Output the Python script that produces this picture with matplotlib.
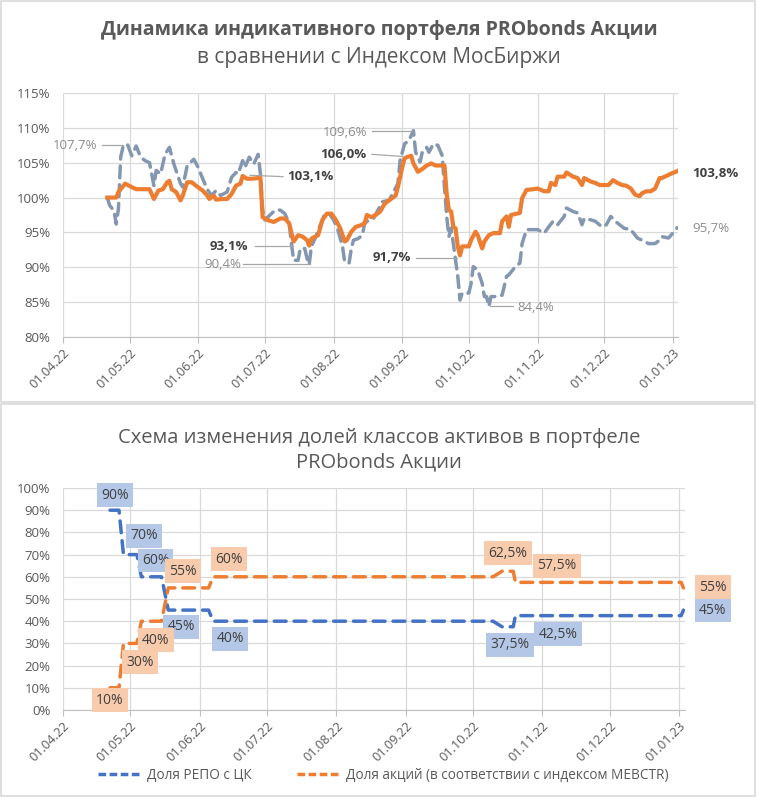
import matplotlib
matplotlib.use('Agg')
import matplotlib.pyplot as plt
import matplotlib.dates as mdates
from matplotlib.patches import Rectangle
from matplotlib.lines import Line2D
import pandas as pd

plt.rcParams['font.family'] = ['Open Sans', 'DejaVu Sans']

# Portfolio PRObonds Akcii (orange), % of start
port_dates = [
    '21.04.22', '25.04.22', '26.04.22', '27.04.22', '29.04.22', '02.05.22', '04.05.22', '10.05.22',
    '12.05.22', '14.05.22', '16.05.22', '18.05.22', '19.05.22', '20.05.22', '22.05.22', '24.05.22',
    '25.05.22', '27.05.22', '29.05.22', '31.05.22', '03.06.22', '05.06.22', '06.06.22', '08.06.22',
    '09.06.22', '12.06.22', '14.06.22', '16.06.22', '18.06.22', '20.06.22', '21.06.22', '23.06.22',
    '25.06.22', '28.06.22', '29.06.22', '30.06.22', '02.07.22', '05.07.22', '08.07.22', '10.07.22',
    '12.07.22', '13.07.22', '14.07.22', '16.07.22', '18.07.22', '20.07.22', '21.07.22', '22.07.22',
    '25.07.22', '27.07.22', '29.07.22', '31.07.22', '02.08.22', '04.08.22', '06.08.22', '07.08.22',
    '09.08.22', '11.08.22', '13.08.22', '15.08.22', '16.08.22', '18.08.22', '20.08.22', '22.08.22',
    '24.08.22', '26.08.22', '29.08.22', '30.08.22', '01.09.22', '02.09.22', '03.09.22', '05.09.22',
    '06.09.22', '08.09.22', '10.09.22', '12.09.22', '14.09.22', '16.09.22', '20.09.22', '21.09.22',
    '22.09.22', '23.09.22', '24.09.22', '25.09.22', '26.09.22', '27.09.22', '28.09.22', '01.10.22',
    '02.10.22', '04.10.22', '05.10.22', '07.10.22', '08.10.22', '10.10.22', '12.10.22', '15.10.22',
    '16.10.22', '18.10.22', '19.10.22', '20.10.22', '24.10.22', '25.10.22', '27.10.22', '30.10.22',
    '01.11.22', '04.11.22', '06.11.22', '07.11.22', '09.11.22', '10.11.22', '13.11.22', '14.11.22',
    '17.11.22', '19.11.22', '21.11.22', '22.11.22', '25.11.22', '27.11.22', '29.11.22', '03.12.22',
    '05.12.22', '07.12.22', '09.12.22', '11.12.22', '13.12.22', '15.12.22', '17.12.22', '18.12.22',
    '20.12.22', '22.12.22', '24.12.22', '26.12.22', '27.12.22', '29.12.22', '31.12.22', '03.01.23',
]
port_vals = [
    100.0, 100.0, 100.8, 101.2, 102.0, 101.5, 101.2, 101.2,
    99.8, 101.0, 101.2, 102.2, 102.4, 101.2, 100.8, 99.6,
    100.3, 102.2, 102.2, 101.7, 101.0, 100.3, 99.8, 100.3,
    99.7, 99.8, 99.8, 100.5, 101.7, 102.0, 103.1, 102.7,
    102.7, 102.8, 102.9, 97.2, 96.8, 96.5, 97.0, 97.0,
    96.3, 94.9, 93.7, 94.6, 94.4, 93.9, 93.1, 94.1,
    94.6, 96.8, 97.7, 97.7, 96.8, 95.6, 93.7, 93.9,
    95.1, 95.8, 96.0, 96.3, 97.5, 97.2, 97.5, 98.0,
    99.1, 99.6, 100.3, 101.5, 104.4, 105.6, 105.8, 106.0,
    104.9, 103.7, 104.1, 104.6, 104.9, 104.6, 104.6, 100.5,
    98.2, 98.0, 95.8, 95.6, 93.0, 91.7, 93.0, 93.0,
    93.9, 95.1, 94.6, 92.7, 93.7, 94.6, 94.9, 94.9,
    96.6, 97.3, 95.8, 97.5, 97.8, 99.9, 101.1, 101.2,
    101.3, 100.9, 100.9, 102.1, 101.8, 103.0, 103.0, 103.6,
    103.0, 102.8, 101.8, 102.8, 102.3, 102.1, 101.8, 101.8,
    102.5, 102.1, 101.8, 101.7, 101.3, 100.4, 100.2, 100.6,
    100.9, 100.9, 101.3, 102.8, 102.8, 103.1, 103.4, 103.8,
]

# MOEX index (grey dashed), % of start
moex_dates = [
    '21.04.22', '22.04.22', '24.04.22', '25.04.22', '26.04.22', '27.04.22', '28.04.22', '30.04.22',
    '02.05.22', '04.05.22', '06.05.22', '08.05.22', '10.05.22', '12.05.22', '13.05.22', '15.05.22',
    '17.05.22', '19.05.22', '21.05.22', '24.05.22', '25.05.22', '27.05.22', '30.05.22', '01.06.22',
    '03.06.22', '05.06.22', '07.06.22', '09.06.22', '11.06.22', '14.06.22', '16.06.22', '18.06.22',
    '19.06.22', '21.06.22', '22.06.22', '24.06.22', '26.06.22', '28.06.22', '29.06.22', '30.06.22',
    '01.07.22', '05.07.22', '06.07.22', '08.07.22', '10.07.22', '12.07.22', '13.07.22', '14.07.22',
    '16.07.22', '17.07.22', '19.07.22', '20.07.22', '21.07.22', '22.07.22', '24.07.22', '25.07.22',
    '27.07.22', '28.07.22', '30.07.22', '01.08.22', '03.08.22', '05.08.22', '06.08.22', '08.08.22',
    '09.08.22', '10.08.22', '12.08.22', '14.08.22', '15.08.22', '17.08.22', '19.08.22', '21.08.22',
    '23.08.22', '26.08.22', '28.08.22', '30.08.22', '31.08.22', '02.09.22', '04.09.22', '06.09.22',
    '07.09.22', '09.09.22', '10.09.22', '12.09.22', '13.09.22', '15.09.22', '17.09.22', '19.09.22',
    '20.09.22', '21.09.22', '22.09.22', '23.09.22', '24.09.22', '26.09.22', '27.09.22', '28.09.22',
    '01.10.22', '02.10.22', '03.10.22', '05.10.22', '07.10.22', '08.10.22', '09.10.22', '10.10.22',
    '11.10.22', '14.10.22', '16.10.22', '18.10.22', '19.10.22', '22.10.22', '24.10.22', '25.10.22',
    '27.10.22', '30.10.22', '01.11.22', '04.11.22', '06.11.22', '08.11.22', '10.11.22', '13.11.22',
    '14.11.22', '17.11.22', '19.11.22', '20.11.22', '21.11.22', '22.11.22', '25.11.22', '27.11.22',
    '30.11.22', '02.12.22', '04.12.22', '06.12.22', '08.12.22', '10.12.22', '13.12.22', '16.12.22',
    '18.12.22', '21.12.22', '24.12.22', '26.12.22', '27.12.22', '30.12.22', '01.01.23', '03.01.23',
]
moex_vals = [
    100.0, 98.9, 98.1, 96.2, 98.4, 105.8, 107.2, 107.7,
    106.0, 107.4, 105.8, 105.3, 105.0, 101.7, 103.9, 103.4,
    106.2, 107.2, 104.8, 102.0, 101.5, 104.6, 105.5, 104.3,
    102.7, 101.2, 100.3, 101.0, 100.3, 100.8, 102.9, 103.6,
    103.4, 105.3, 104.3, 105.8, 104.8, 106.2, 103.4, 98.2,
    96.8, 98.0, 98.2, 98.2, 97.7, 96.3, 93.4, 91.0,
    91.0, 92.7, 92.7, 91.3, 90.4, 93.0, 94.4, 95.3,
    96.8, 97.7, 97.7, 96.8, 95.3, 93.0, 90.8, 90.6,
    92.7, 93.9, 94.1, 94.6, 96.3, 96.8, 97.0, 98.2,
    99.4, 99.6, 100.8, 102.0, 105.3, 107.7, 108.2, 109.6,
    106.5, 105.1, 106.5, 107.2, 106.5, 107.7, 107.5, 106.0,
    101.5, 97.3, 94.4, 95.6, 93.4, 88.7, 85.3, 86.3,
    86.3, 87.7, 90.1, 89.6, 87.7, 85.8, 85.8, 84.4,
    85.8, 85.8, 86.0, 88.7, 88.9, 90.1, 90.6, 93.4,
    95.4, 95.4, 95.4, 94.9, 95.8, 96.6, 96.1, 97.3,
    98.5, 98.0, 97.8, 97.0, 96.1, 97.0, 96.8, 96.6,
    95.8, 96.1, 97.3, 96.6, 96.1, 95.6, 95.4, 94.2,
    93.9, 93.4, 93.4, 93.9, 94.4, 94.2, 94.9, 95.7,
]

# Asset class shares, %
alloc_dates = ['22.04.22', '26.04.22', '28.04.22', '04.05.22', '06.05.22', '15.05.22', '18.05.22',
               '05.06.22', '07.06.22', '10.10.22', '14.10.22', '19.10.22', '20.10.22', '02.01.23',
               '03.01.23']
repo_share = [90, 90, 70, 70, 60, 60, 45, 45, 40, 40, 37.5, 37.5, 42.5, 42.5, 45]
equity_share = [10, 10, 30, 30, 40, 40, 55, 55, 60, 60, 62.5, 62.5, 57.5, 57.5, 55]

month_ticks = ['01.04.22', '01.05.22', '01.06.22', '01.07.22', '01.08.22', '01.09.22',
               '01.10.22', '01.11.22', '01.12.22', '01.01.23']

title_top = 'Динамика индикативного портфеля PRObonds Акции'
subtitle_top = 'в сравнении с Индексом МосБиржи'
title_bottom = 'Схема изменения долей классов активов в портфеле\nPRObonds Акции'
legend_labels = ['Доля РЕПО с ЦК', 'Доля акций (в соответствии с индексом MEBCTR)']


def to_num(dates):
    return mdates.date2num(pd.to_datetime(dates, format='%d.%m.%y'))


def pct(v, dec):
    return (f'{v:.{dec}f}' if dec else f'{v:g}').replace('.', ',') + '%'


ORANGE = '#ED7D31'
GREY = '#8497B0'
BLUE = '#4472C4'
TXT = '#595959'
GRID = '#d9d9d9'

W, H = 758, 797
fig = plt.figure(figsize=(W / 100, H / 100), dpi=100)

base = to_num(['01.04.22'])[0]
ticks = to_num(month_ticks)


def style_axis(ax, xmax_days):
    ax.set_xlim(base, base + xmax_days)
    ax.set_xticks(ticks)
    ax.xaxis.set_major_formatter(mdates.DateFormatter('%d.%m.%y'))
    ax.grid(True, color=GRID, lw=0.9)
    ax.set_axisbelow(True)
    for s in ('top', 'right', 'left'):
        ax.spines[s].set_visible(False)
    ax.spines['bottom'].set_color('#bfbfbf')
    ax.tick_params(axis='y', length=0, pad=9, labelsize=9.5, labelcolor=TXT)
    ax.tick_params(axis='x', length=4, color='#bfbfbf', pad=3, labelsize=9.2, labelcolor=TXT)
    for lab in ax.get_xticklabels():
        lab.set_rotation(45)
        lab.set_ha('right')
        lab.set_va('top')
        lab.set_rotation_mode('anchor')


# ---------------- top chart ----------------
ax1 = fig.add_axes([63 / W, 1 - 337 / H, (678 - 63) / W, (337 - 93) / H])
px = to_num(port_dates)
mx = to_num(moex_dates)
ax1.plot(mx, moex_vals, color=GREY, lw=2.5, ls=(0, (3.4, 2.0)), dash_capstyle='round', zorder=3)
ax1.plot(px, port_vals, color=ORANGE, lw=3.0, solid_joinstyle='round', zorder=4)
ax1.set_ylim(80, 115)
ax1.set_yticks(range(80, 116, 5))
ax1.set_yticklabels([f'{v}%' for v in range(80, 116, 5)])
style_axis(ax1, 277.3)

# data labels: (series, date, text x (days), text y, ha, leader line, bold)
top_labels = [
    ('moex', '30.04.22', 15.3, 107.5, 'right', (17.6, 107.5, 27.0, 107.5), False),
    ('port', '21.06.22', 101.0, 103.0, 'left', (84.3, 103.2, 99.2, 103.0), True),
    ('port', '21.07.22', 83.4, 93.0, 'right', (86.6, 93.0, 103.7, 93.0), True),
    ('moex', '21.07.22', 80.3, 90.4, 'right', (81.2, 90.4, 111.4, 90.4), False),
    ('moex', '06.09.22', 137.0, 109.3, 'right', (139.3, 109.5, 157.4, 109.5), False),
    ('port', '05.09.22', 137.0, 106.2, 'right', (139.3, 106.2, 153.3, 105.9), True),
    ('port', '27.09.22', 157.0, 91.4, 'right', (159.0, 91.4, 177.6, 91.4), True),
    ('moex', '10.10.22', 205.0, 84.3, 'left', (192.5, 84.4, 203.0, 84.4), False),
    ('port', '03.01.23', 283.6, 103.5, 'left', None, True),
    ('moex', '03.01.23', 283.6, 95.5, 'left', None, False),
]
series = {'port': (port_dates, port_vals), 'moex': (moex_dates, moex_vals)}
for key, date, tx, ty, ha, line, bold in top_labels:
    dates, vals = series[key]
    v = vals[dates.index(date)]
    ax1.text(base + tx, ty, pct(v, 1), ha=ha, va='center', fontsize=9.5,
             fontweight='bold' if bold else 'normal', color='#404040' if bold else '#8c8c8c',
             clip_on=False, zorder=6)
    if line:
        ax1.plot([base + line[0], base + line[2]], [line[1], line[3]], color='#a6a6a6', lw=0.9,
                 clip_on=False, zorder=5)

fig.text(0.5, 1 - 30 / H, title_top, ha='center', va='center', fontsize=14,
         fontweight='bold', color=TXT)
fig.text(0.5, 1 - 58 / H, subtitle_top, ha='center', va='center', fontsize=15, color=TXT)

# ---------------- bottom chart ----------------
ax2 = fig.add_axes([63 / W, 1 - 710 / H, (685 - 63) / W, (710 - 488) / H])
ax_ = to_num(alloc_dates)
ax2.plot(ax_, repo_share, color=BLUE, lw=2.5, ls=(0, (3.4, 2.3)), dash_capstyle='round', zorder=3)
ax2.plot(ax_, equity_share, color=ORANGE, lw=2.5, ls=(0, (3.4, 2.3)), dash_capstyle='round', zorder=3)
ax2.set_ylim(0, 100)
ax2.set_yticks(range(0, 101, 10))
ax2.set_yticklabels([f'{v}%' for v in range(0, 101, 10)])
style_axis(ax2, 277.7)

# box labels: (index in series, x (days), y)
repo_label_pos = [(0, 23.2, 96.8), (2, 36.2, 78.4), (4, 41.3, 67.3), (6, 52.7, 37.4),
                  (8, 74.6, 32.0), (10, 199.6, 29.3), (12, 221.0, 34.2), (14, 290.2, 45.0)]
equity_label_pos = [(0, 21.0, 4.5), (2, 34.4, 21.6), (4, 41.5, 31.5), (6, 53.6, 62.6),
                    (8, 74.1, 68.0), (10, 198.7, 70.7), (12, 220.5, 64.9), (14, 290.2, 55.4)]
for vals, pos, fc, z in ((repo_share, repo_label_pos, '#b4c7e7', 6),
                         (equity_share, equity_label_pos, '#f8cbad', 7)):
    for i, (idx, tx, ty) in enumerate(pos):
        ax2.text(base + tx, ty, pct(vals[idx], 0), ha='center', va='center', fontsize=10,
                 color='#404040', clip_on=False, zorder=z + i * 0.01,
                 bbox=dict(boxstyle='square,pad=0.3', fc=fc, ec='none'))

fig.text(0.5, 1 - 450 / H, title_bottom, ha='center', va='center', fontsize=14.5,
         color=TXT, linespacing=1.3)

handles = [Line2D([], [], color=BLUE, lw=2.5, ls=(0, (2.2, 1.0))),
           Line2D([], [], color=ORANGE, lw=2.5, ls=(0, (2.2, 1.0)))]
fig.legend(handles, legend_labels, loc='center', bbox_to_anchor=(383 / W, 1 - 775 / H),
           ncol=2, frameon=False, fontsize=9.8, labelcolor=TXT, handlelength=3.2,
           handletextpad=0.4, columnspacing=3.3)

# chart area borders
for y0, y1 in ((1, 402), (404, 796)):
    fig.add_artist(Rectangle((1 / W, 1 - y1 / H), (755 - 1) / W, (y1 - y0) / H,
                             transform=fig.transFigure, fill=False, ec=GRID, lw=1.2))

fig.savefig('out.png', dpi=100)
